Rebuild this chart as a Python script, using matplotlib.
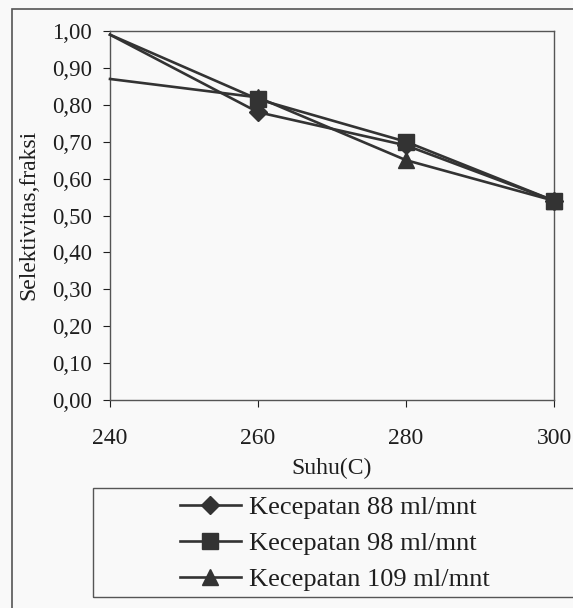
import matplotlib
matplotlib.use("Agg")
import matplotlib.pyplot as plt
from matplotlib.patches import Rectangle

plt.rcParams['font.family'] = ['Liberation Serif', 'DejaVu Serif']

suhu = [240, 260, 280, 300]
sel_88 = [0.99, 0.78, 0.69, 0.54]
sel_98 = [0.99, 0.815, 0.70, 0.54]
sel_109 = [0.87, 0.82, 0.65, 0.54]
labels = ['Kecepatan 88 ml/mnt', 'Kecepatan 98 ml/mnt', 'Kecepatan 109 ml/mnt']
yticks = [0.0, 0.1, 0.2, 0.3, 0.4, 0.5, 0.6, 0.7, 0.8, 0.9, 1.0]

ink = '#1e1e1e'
line_c = '#333333'
bg = '#f9f9f9'

fig = plt.figure(figsize=(5.73, 6.08), dpi=100, facecolor=bg)
ax = fig.add_axes([110/573, 1 - 400/608, (554 - 110)/573, (400 - 31)/608])
ax.set_facecolor(bg)

# no marker visible at the first point in the original
mk = [1, 2, 3]
l1, = ax.plot(suhu, sel_88, color=line_c, lw=1.9, marker='D', ms=9, markevery=mk,
              zorder=3, clip_on=False)
l3, = ax.plot(suhu, sel_109, color=line_c, lw=1.9, marker='^', ms=11, markevery=mk,
              zorder=4, clip_on=False)
l2, = ax.plot(suhu, sel_98, color=line_c, lw=1.9, marker='s', ms=11, markevery=mk,
              zorder=5, clip_on=False)

ax.set_xlim(240, 300)
ax.set_ylim(0, 1.0)
ax.set_xticks(suhu)
ax.set_yticks(yticks)
ax.set_yticklabels([f'{v:.2f}'.replace('.', ',') for v in yticks])
ax.tick_params(axis='y', labelsize=16.5, length=5, pad=8, colors=ink)
ax.tick_params(axis='x', labelsize=17, length=5, pad=15, colors=ink)
for s in ax.spines.values():
    s.set_color('#555555')
    s.set_linewidth(1)

fig.text(332/573, 1 - 468/608, 'Suhu(C)', ha='center', va='center', fontsize=17, color=ink)
fig.text(29/573, 1 - 215/608, 'Selektivitas,fraksi', ha='center', va='center',
         rotation=90, fontsize=17, color=ink)

# outer chart border and legend box
fig.patches.append(Rectangle((12/573, -0.2), 1.2, 0.2 + (1 - 9/608),
                             transform=fig.transFigure, fill=False, ec='#555555', lw=1.2))
fig.patches.append(Rectangle((93/573, 1 - 597/608), 1.0, (597 - 488)/608,
                             transform=fig.transFigure, fill=False, ec='#555555', lw=1))

leg = fig.legend([l1, l2, l3], labels, loc='upper left',
                 bbox_to_anchor=(180/573, 1 - 496/608), frameon=False,
                 fontsize=19, handlelength=2.3, handletextpad=0.3,
                 labelspacing=0.47, borderpad=0, borderaxespad=0)
for t in leg.get_texts():
    t.set_color(ink)

fig.savefig('out.png', dpi=100, facecolor=bg)
